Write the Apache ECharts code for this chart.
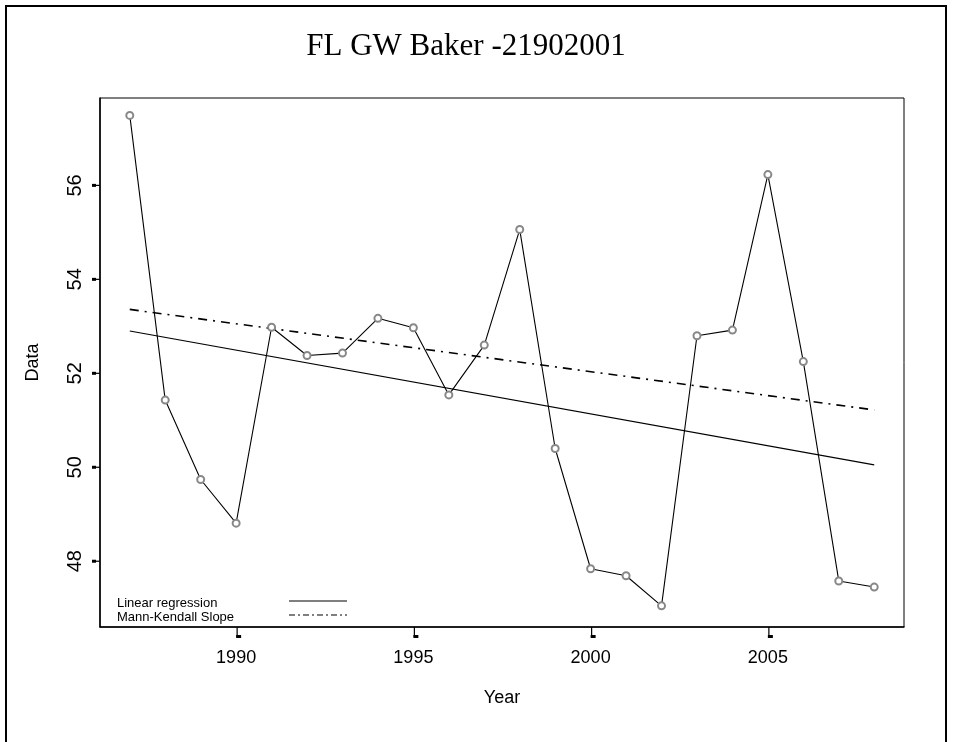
<!DOCTYPE html>
<html>
<head>
<meta charset="utf-8">
<script src="https://cdn.jsdelivr.net/npm/echarts@6/dist/echarts.min.js"></script>
<style>
  html, body { margin: 0; padding: 0; background: #fff; }
  #chart { width: 953px; height: 742px; }
</style>
</head>
<body>
<div id="chart"></div>
<script>
// Annual observations
const years = [1987, 1988, 1989, 1990, 1991, 1992, 1993, 1994, 1995, 1996, 1997,
               1998, 1999, 2000, 2001, 2002, 2003, 2004, 2005, 2006, 2007, 2008];
const values = [57.49, 51.43, 49.74, 48.81, 52.98, 52.38, 52.43, 53.17, 52.97, 51.54, 52.60,
                55.06, 50.40, 47.84, 47.69, 47.05, 52.80, 52.92, 56.23, 52.25, 47.58, 47.45];

// Trend lines (value at first and last year)
const trendYears = [1987, 2008];
const regressionValues = [52.90, 50.05];
const kendallValues = [53.36, 51.22];

// Axis ticks
const xTicks = [1990, 1995, 2000, 2005];
const yTicks = [48, 50, 52, 54, 56];

const X_MIN = 1986.16, X_MAX = 2008.84;
const Y_MIN = 46.60, Y_MAX = 57.86;

const pairs = (xs, ys) => xs.map((x, i) => [x, ys[i]]);

const chart = echarts.init(document.getElementById('chart'));
const sans = 'Liberation Sans, Arial, sans-serif';
const mkDash = [9, 6, 2, 6];

// Outward tick marks with a heavy stub at the outer end
function xTickRender(params, api) {
  const p = api.coord([api.value(0), Y_MIN]);
  return {
    type: 'group',
    children: [
      { type: 'line', shape: { x1: p[0] + 1, y1: p[1], x2: p[0] + 1, y2: p[1] + 10 },
        style: { stroke: '#000', lineWidth: 1.2 } },
      { type: 'rect', shape: { x: p[0], y: p[1] + 8, width: 5, height: 3 },
        style: { fill: '#000' } }
    ]
  };
}
function yTickRender(params, api) {
  const p = api.coord([X_MIN, api.value(0)]);
  return {
    type: 'group',
    children: [
      { type: 'line', shape: { x1: p[0] - 8, y1: p[1], x2: p[0], y2: p[1] },
        style: { stroke: '#000', lineWidth: 1.2 } },
      { type: 'rect', shape: { x: p[0] - 8, y: p[1] - 1.5, width: 4, height: 3 },
        style: { fill: '#000' } }
    ]
  };
}

chart.setOption({
  animation: false,
  backgroundColor: '#fff',
  title: {
    text: 'FL GW Baker -21902001',
    left: 461,
    textAlign: 'center',
    top: 26,
    textStyle: { fontFamily: 'Liberation Serif, Times New Roman, serif', fontSize: 31, fontWeight: 'normal', color: '#000' }
  },
  graphic: [
    {
      type: 'rect',
      shape: { x: 6, y: 6, width: 940, height: 800 },
      style: { fill: 'none', stroke: '#000', lineWidth: 2 },
      silent: true
    },
    // Key for the two trend lines
    {
      type: 'text', left: 117, top: 597, silent: true,
      style: { text: 'Linear regression', fill: '#000', font: '13px ' + sans }
    },
    {
      type: 'text', left: 117, top: 611, silent: true,
      style: { text: 'Mann-Kendall Slope', fill: '#000', font: '13px ' + sans }
    },
    {
      type: 'line', silent: true,
      shape: { x1: 289, y1: 601, x2: 347, y2: 601 },
      style: { stroke: '#000', lineWidth: 1.2 }
    },
    {
      type: 'line', silent: true,
      shape: { x1: 289, y1: 615, x2: 347, y2: 615 },
      style: { stroke: '#000', lineWidth: 1.2, lineDash: [6, 3, 2, 3] }
    }
  ],
  grid: {
    left: 100, top: 98, width: 804, height: 529,
    show: true, borderColor: '#000', borderWidth: 1, backgroundColor: 'transparent'
  },
  xAxis: {
    type: 'value',
    min: X_MIN,
    max: X_MAX,
    name: 'Year',
    nameLocation: 'middle',
    nameGap: 62,
    nameTextStyle: { fontFamily: sans, fontSize: 18, color: '#000' },
    axisLine: { show: true, onZero: false, lineStyle: { color: '#000', width: 1.5 } },
    axisTick: { show: false },
    axisLabel: { customValues: xTicks, margin: 22, fontFamily: sans, fontSize: 18, color: '#000',
                 formatter: v => String(v) },
    splitLine: { show: false }
  },
  yAxis: {
    type: 'value',
    min: Y_MIN,
    max: Y_MAX,
    name: 'Data',
    nameLocation: 'middle',
    nameGap: 58,
    nameTextStyle: { fontFamily: sans, fontSize: 18, color: '#000' },
    axisLine: { show: true, onZero: false, lineStyle: { color: '#000', width: 1.5 } },
    axisTick: { show: false },
    axisLabel: { customValues: yTicks, rotate: 90, margin: 15, fontFamily: sans, fontSize: 20, color: '#000',
                 formatter: v => String(v) },
    splitLine: { show: false }
  },
  series: [
    {
      name: 'Data',
      type: 'line',
      data: pairs(years, values),
      symbol: 'emptyCircle',
      symbolSize: 7,
      showAllSymbol: true,
      itemStyle: { color: '#888', borderWidth: 0.7 },
      lineStyle: { color: '#000', width: 1.1 },
      z: 3
    },
    {
      name: 'Linear regression',
      type: 'line',
      data: pairs(trendYears, regressionValues),
      symbol: 'none',
      lineStyle: { color: '#000', width: 1.2 },
      z: 2
    },
    {
      name: 'Mann-Kendall Slope',
      type: 'line',
      data: pairs(trendYears, kendallValues),
      symbol: 'none',
      lineStyle: { color: '#000', width: 1.6, type: mkDash },
      z: 2
    },
    {
      type: 'custom',
      xAxisIndex: 0, yAxisIndex: 0,
      data: xTicks.map(v => [v]),
      encode: { x: 0 },
      renderItem: xTickRender,
      clip: false,
      silent: true
    },
    {
      type: 'custom',
      xAxisIndex: 0, yAxisIndex: 0,
      data: yTicks.map(v => [v]),
      encode: { y: 0 },
      renderItem: yTickRender,
      clip: false,
      silent: true
    }
  ]
});
</script>
</body>
</html>
